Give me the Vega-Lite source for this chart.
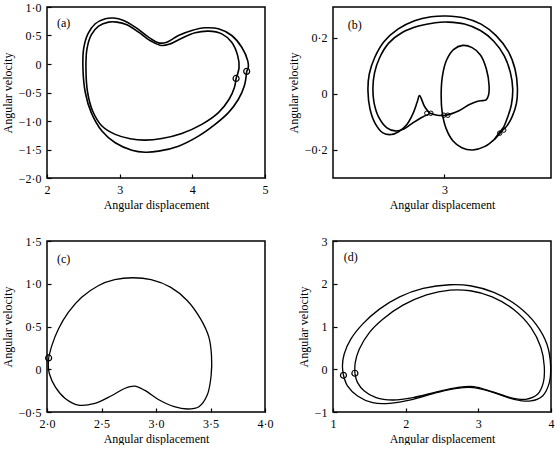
{
"$schema": "https://vega.github.io/schema/vega-lite/v6.json",
"background": "white",
"padding": 0,
"bounds": "flush",
"columns": 2,
"spacing": {"row": 63, "column": 68},
"config": {
  "font": "Liberation Serif",
  "view": {"stroke": "black", "strokeWidth": 1.5},
  "axis": {"domain": false, "grid": false, "ticks": true, "tickColor": "black", "tickSize": -4, "tickWidth": 1.2,
    "labelFont": "Liberation Serif", "labelFontSize": 12, "labelColor": "black", "labelFlush": false, "labelOverlap": false, "labelPadding": 10,
    "titleFont": "Liberation Serif", "titleFontSize": 12, "titleFontWeight": "normal", "titleColor": "black", "titlePadding": 4},
  "line": {"stroke": "black", "strokeWidth": 1.6, "interpolate": "catmull-rom"},
  "point": {"shape": "circle", "filled": false, "stroke": "black", "strokeWidth": 1.2, "opacity": 1},
  "text": {"font": "Liberation Serif", "fontSize": 12, "color": "black"}
},
"datasets": {
  "a": [
    {"s":1,"i":0,"x":4.748,"y":-0.129},{"s":1,"i":1,"x":4.716,"y":-0.382},{"s":1,"i":2,"x":4.634,"y":-0.618},{"s":1,"i":3,"x":4.497,"y":-0.853},{"s":1,"i":4,"x":4.313,"y":-1.059},{"s":1,"i":5,"x":4.084,"y":-1.265},{"s":1,"i":6,"x":3.809,"y":-1.441},{"s":1,"i":7,"x":3.535,"y":-1.529},{"s":1,"i":8,"x":3.351,"y":-1.547},{"s":1,"i":9,"x":3.168,"y":-1.512},{"s":1,"i":10,"x":2.939,"y":-1.382},{"s":1,"i":11,"x":2.756,"y":-1.176},{"s":1,"i":12,"x":2.609,"y":-0.853},{"s":1,"i":13,"x":2.527,"y":-0.5},{"s":1,"i":14,"x":2.495,"y":-0.088},{"s":1,"i":15,"x":2.504,"y":0.265},{"s":1,"i":16,"x":2.563,"y":0.529},{"s":1,"i":17,"x":2.664,"y":0.706},{"s":1,"i":18,"x":2.802,"y":0.794},{"s":1,"i":19,"x":2.916,"y":0.806},{"s":1,"i":20,"x":3.054,"y":0.765},{"s":1,"i":21,"x":3.214,"y":0.647},{"s":1,"i":22,"x":3.397,"y":0.471},{"s":1,"i":23,"x":3.535,"y":0.371},{"s":1,"i":24,"x":3.649,"y":0.382},{"s":1,"i":25,"x":3.809,"y":0.5},{"s":1,"i":26,"x":3.993,"y":0.588},{"s":1,"i":27,"x":4.176,"y":0.635},{"s":1,"i":28,"x":4.359,"y":0.618},{"s":1,"i":29,"x":4.542,"y":0.5},{"s":1,"i":30,"x":4.68,"y":0.294},{"s":1,"i":31,"x":4.762,"y":0.059},{"s":1,"i":32,"x":4.771,"y":-0.059},{"s":1,"i":33,"x":4.748,"y":-0.129},
    {"s":2,"i":0,"x":4.602,"y":-0.253},{"s":2,"i":1,"x":4.579,"y":-0.412},{"s":2,"i":2,"x":4.506,"y":-0.618},{"s":2,"i":3,"x":4.359,"y":-0.853},{"s":2,"i":4,"x":4.13,"y":-1.059},{"s":2,"i":5,"x":3.855,"y":-1.218},{"s":2,"i":6,"x":3.58,"y":-1.306},{"s":2,"i":7,"x":3.351,"y":-1.335},{"s":2,"i":8,"x":3.145,"y":-1.312},{"s":2,"i":9,"x":2.939,"y":-1.235},{"s":2,"i":10,"x":2.756,"y":-1.088},{"s":2,"i":11,"x":2.628,"y":-0.824},{"s":2,"i":12,"x":2.559,"y":-0.5},{"s":2,"i":13,"x":2.536,"y":-0.088},{"s":2,"i":14,"x":2.55,"y":0.265},{"s":2,"i":15,"x":2.609,"y":0.512},{"s":2,"i":16,"x":2.71,"y":0.665},{"s":2,"i":17,"x":2.847,"y":0.735},{"s":2,"i":18,"x":2.962,"y":0.735},{"s":2,"i":19,"x":3.099,"y":0.688},{"s":2,"i":20,"x":3.26,"y":0.559},{"s":2,"i":21,"x":3.443,"y":0.394},{"s":2,"i":22,"x":3.58,"y":0.324},{"s":2,"i":23,"x":3.695,"y":0.353},{"s":2,"i":24,"x":3.855,"y":0.453},{"s":2,"i":25,"x":4.038,"y":0.547},{"s":2,"i":26,"x":4.222,"y":0.576},{"s":2,"i":27,"x":4.405,"y":0.529},{"s":2,"i":28,"x":4.542,"y":0.382},{"s":2,"i":29,"x":4.624,"y":0.147},{"s":2,"i":30,"x":4.643,"y":-0.059},{"s":2,"i":31,"x":4.602,"y":-0.253}
  ],
  "am": [{"x":4.748,"y":-0.129},{"x":4.602,"y":-0.253}],
  "b": [
    {"s":1,"i":0,"x":2.955,"y":-0.068},{"s":1,"i":1,"x":2.94,"y":-0.045},{"s":1,"i":2,"x":2.925,"y":-0.006},{"s":1,"i":3,"x":2.918,"y":-0.029},{"s":1,"i":4,"x":2.905,"y":-0.071},{"s":1,"i":5,"x":2.885,"y":-0.112},{"s":1,"i":6,"x":2.862,"y":-0.135},{"s":1,"i":7,"x":2.84,"y":-0.145},{"s":1,"i":8,"x":2.815,"y":-0.139},{"s":1,"i":9,"x":2.792,"y":-0.106},{"s":1,"i":10,"x":2.776,"y":-0.053},{"s":1,"i":11,"x":2.77,"y":0.012},{"s":1,"i":12,"x":2.774,"y":0.071},{"s":1,"i":13,"x":2.79,"y":0.129},{"s":1,"i":14,"x":2.818,"y":0.186},{"s":1,"i":15,"x":2.86,"y":0.231},{"s":1,"i":16,"x":2.91,"y":0.261},{"s":1,"i":17,"x":2.96,"y":0.275},{"s":1,"i":18,"x":3.005,"y":0.278},{"s":1,"i":19,"x":3.06,"y":0.271},{"s":1,"i":20,"x":3.11,"y":0.249},{"s":1,"i":21,"x":3.155,"y":0.208},{"s":1,"i":22,"x":3.192,"y":0.151},{"s":1,"i":23,"x":3.212,"y":0.088},{"s":1,"i":24,"x":3.219,"y":0.024},{"s":1,"i":25,"x":3.216,"y":-0.035},{"s":1,"i":26,"x":3.203,"y":-0.082},{"s":1,"i":27,"x":3.187,"y":-0.115},{"s":1,"i":28,"x":3.172,"y":-0.133},{"s":1,"i":29,"x":3.15,"y":-0.162},{"s":1,"i":30,"x":3.12,"y":-0.188},{"s":1,"i":31,"x":3.085,"y":-0.2},{"s":1,"i":32,"x":3.052,"y":-0.192},{"s":1,"i":33,"x":3.025,"y":-0.167},{"s":1,"i":34,"x":3.005,"y":-0.124},{"s":1,"i":35,"x":2.993,"y":-0.065},{"s":1,"i":36,"x":2.99,"y":0.0},{"s":1,"i":37,"x":2.994,"y":0.065},{"s":1,"i":38,"x":3.006,"y":0.12},{"s":1,"i":39,"x":3.027,"y":0.158},{"s":1,"i":40,"x":3.055,"y":0.173},{"s":1,"i":41,"x":3.083,"y":0.165},{"s":1,"i":42,"x":3.108,"y":0.139},{"s":1,"i":43,"x":3.126,"y":0.088},{"s":1,"i":44,"x":3.134,"y":0.029},{"s":1,"i":45,"x":3.132,"y":-0.006},{"s":1,"i":46,"x":3.125,"y":-0.021},{"s":1,"i":47,"x":3.115,"y":-0.024},{"s":1,"i":48,"x":3.1,"y":-0.026},{"s":1,"i":49,"x":3.075,"y":-0.038},{"s":1,"i":50,"x":3.045,"y":-0.059},{"s":1,"i":51,"x":3.003,"y":-0.076},{"s":1,"i":52,"x":2.978,"y":-0.076},{"s":1,"i":53,"x":2.955,"y":-0.068},
    {"s":2,"i":0,"x":2.952,"y":-0.073},{"s":2,"i":1,"x":2.93,"y":-0.085},{"s":2,"i":2,"x":2.902,"y":-0.106},{"s":2,"i":3,"x":2.878,"y":-0.125},{"s":2,"i":4,"x":2.852,"y":-0.132},{"s":2,"i":5,"x":2.826,"y":-0.12},{"s":2,"i":6,"x":2.802,"y":-0.082},{"s":2,"i":7,"x":2.788,"y":-0.029},{"s":2,"i":8,"x":2.785,"y":0.024},{"s":2,"i":9,"x":2.79,"y":0.076},{"s":2,"i":10,"x":2.805,"y":0.129},{"s":2,"i":11,"x":2.833,"y":0.182},{"s":2,"i":12,"x":2.873,"y":0.219},{"s":2,"i":13,"x":2.922,"y":0.242},{"s":2,"i":14,"x":2.972,"y":0.254},{"s":2,"i":15,"x":3.012,"y":0.256},{"s":2,"i":16,"x":3.06,"y":0.249},{"s":2,"i":17,"x":3.108,"y":0.226},{"s":2,"i":18,"x":3.148,"y":0.188},{"s":2,"i":19,"x":3.18,"y":0.135},{"s":2,"i":20,"x":3.198,"y":0.076},{"s":2,"i":21,"x":3.205,"y":0.018},{"s":2,"i":22,"x":3.201,"y":-0.038},{"s":2,"i":23,"x":3.19,"y":-0.082},{"s":2,"i":24,"x":3.177,"y":-0.12},{"s":2,"i":25,"x":3.164,"y":-0.139},{"s":2,"i":26,"x":3.15,"y":-0.162}
  ],
  "bm": [{"x":2.947,"y":-0.069},{"x":2.959,"y":-0.069},{"x":2.998,"y":-0.076},{"x":3.01,"y":-0.076},{"x":3.166,"y":-0.14},{"x":3.178,"y":-0.129}],
  "c": [
    {"s":1,"i":0,"x":2.015,"y":0.132},{"s":1,"i":1,"x":2.045,"y":0.279},{"s":1,"i":2,"x":2.106,"y":0.473},{"s":1,"i":3,"x":2.197,"y":0.667},{"s":1,"i":4,"x":2.318,"y":0.841},{"s":1,"i":5,"x":2.47,"y":0.977},{"s":1,"i":6,"x":2.621,"y":1.047},{"s":1,"i":7,"x":2.788,"y":1.07},{"s":1,"i":8,"x":2.955,"y":1.047},{"s":1,"i":9,"x":3.136,"y":0.957},{"s":1,"i":10,"x":3.288,"y":0.802},{"s":1,"i":11,"x":3.409,"y":0.589},{"s":1,"i":12,"x":3.485,"y":0.376},{"s":1,"i":13,"x":3.509,"y":0.163},{"s":1,"i":14,"x":3.506,"y":-0.07},{"s":1,"i":15,"x":3.47,"y":-0.302},{"s":1,"i":16,"x":3.394,"y":-0.438},{"s":1,"i":17,"x":3.288,"y":-0.465},{"s":1,"i":18,"x":3.167,"y":-0.438},{"s":1,"i":19,"x":3.03,"y":-0.36},{"s":1,"i":20,"x":2.894,"y":-0.244},{"s":1,"i":21,"x":2.803,"y":-0.198},{"s":1,"i":22,"x":2.712,"y":-0.225},{"s":1,"i":23,"x":2.591,"y":-0.31},{"s":1,"i":24,"x":2.439,"y":-0.399},{"s":1,"i":25,"x":2.288,"y":-0.419},{"s":1,"i":26,"x":2.167,"y":-0.341},{"s":1,"i":27,"x":2.076,"y":-0.205},{"s":1,"i":28,"x":2.021,"y":-0.05},{"s":1,"i":29,"x":2.012,"y":0.047},{"s":1,"i":30,"x":2.015,"y":0.132}
  ],
  "cm": [{"x":2.015,"y":0.132}],
  "d": [
    {"s":1,"i":0,"x":1.144,"y":-0.141},{"s":1,"i":1,"x":1.13,"y":0.078},{"s":1,"i":2,"x":1.153,"y":0.352},{"s":1,"i":3,"x":1.245,"y":0.703},{"s":1,"i":4,"x":1.407,"y":1.055},{"s":1,"i":5,"x":1.639,"y":1.406},{"s":1,"i":6,"x":1.917,"y":1.695},{"s":1,"i":7,"x":2.241,"y":1.891},{"s":1,"i":8,"x":2.611,"y":1.977},{"s":1,"i":9,"x":2.889,"y":1.953},{"s":1,"i":10,"x":3.213,"y":1.797},{"s":1,"i":11,"x":3.537,"y":1.484},{"s":1,"i":12,"x":3.792,"y":1.055},{"s":1,"i":13,"x":3.944,"y":0.586},{"s":1,"i":14,"x":3.995,"y":0.078},{"s":1,"i":15,"x":3.977,"y":-0.313},{"s":1,"i":16,"x":3.884,"y":-0.625},{"s":1,"i":17,"x":3.722,"y":-0.742},{"s":1,"i":18,"x":3.491,"y":-0.703},{"s":1,"i":19,"x":3.213,"y":-0.547},{"s":1,"i":20,"x":2.935,"y":-0.43},{"s":1,"i":21,"x":2.704,"y":-0.445},{"s":1,"i":22,"x":2.426,"y":-0.547},{"s":1,"i":23,"x":2.102,"y":-0.703},{"s":1,"i":24,"x":1.778,"y":-0.797},{"s":1,"i":25,"x":1.546,"y":-0.781},{"s":1,"i":26,"x":1.338,"y":-0.625},{"s":1,"i":27,"x":1.199,"y":-0.391},{"s":1,"i":28,"x":1.144,"y":-0.141},
    {"s":2,"i":0,"x":1.301,"y":-0.094},{"s":2,"i":1,"x":1.306,"y":0.156},{"s":2,"i":2,"x":1.361,"y":0.469},{"s":2,"i":3,"x":1.5,"y":0.859},{"s":2,"i":4,"x":1.685,"y":1.172},{"s":2,"i":5,"x":1.963,"y":1.5},{"s":2,"i":6,"x":2.287,"y":1.742},{"s":2,"i":7,"x":2.611,"y":1.852},{"s":2,"i":8,"x":2.889,"y":1.836},{"s":2,"i":9,"x":3.19,"y":1.695},{"s":2,"i":10,"x":3.491,"y":1.391},{"s":2,"i":11,"x":3.722,"y":0.977},{"s":2,"i":12,"x":3.861,"y":0.508},{"s":2,"i":13,"x":3.907,"y":0.078},{"s":2,"i":14,"x":3.894,"y":-0.313},{"s":2,"i":15,"x":3.815,"y":-0.586},{"s":2,"i":16,"x":3.653,"y":-0.703},{"s":2,"i":17,"x":3.444,"y":-0.664},{"s":2,"i":18,"x":3.19,"y":-0.523},{"s":2,"i":19,"x":2.935,"y":-0.406},{"s":2,"i":20,"x":2.704,"y":-0.43},{"s":2,"i":21,"x":2.426,"y":-0.531},{"s":2,"i":22,"x":2.102,"y":-0.664},{"s":2,"i":23,"x":1.824,"y":-0.719},{"s":2,"i":24,"x":1.593,"y":-0.664},{"s":2,"i":25,"x":1.431,"y":-0.508},{"s":2,"i":26,"x":1.338,"y":-0.313},{"s":2,"i":27,"x":1.301,"y":-0.094}
  ],
  "dm": [{"x":1.144,"y":-0.141},{"x":1.301,"y":-0.094}],
  "lab": [
    {"p":"a","x":2.229,"y":0.724,"t":"(a)"},
    {"p":"b","x":2.73,"y":0.245,"t":"(b)"},
    {"p":"c","x":2.152,"y":1.287,"t":"(c)"},
    {"p":"d","x":1.245,"y":2.617,"t":"(d)"}
  ]
},
"concat": [
  {
    "width": 218, "height": 171,
    "encoding": {
      "x": {"field": "x", "type": "quantitative", "scale": {"domain": [2, 5], "nice": false, "zero": false},
        "axis": {"title": "Angular displacement", "values": [2, 3, 4, 5], "format": "d"}},
      "y": {"field": "y", "type": "quantitative", "scale": {"domain": [-2, 1], "nice": false, "zero": false},
        "axis": {"title": "Angular velocity", "values": [-2, -1.5, -1, -0.5, 0, 0.5, 1],
          "labelExpr": "datum.value == 0 ? '0' : replace(replace(format(datum.value, '.1f'), '.', '·'), '-', '−')"}}
    },
    "layer": [
      {"data": {"name": "a"}, "mark": {"type": "line"}, "encoding": {"detail": {"field": "s"}, "order": {"field": "i", "type": "quantitative"}}},
      {"data": {"name": "am"}, "mark": {"type": "point", "size": 36}},
      {"data": {"name": "lab"}, "transform": [{"filter": "datum.p == 'a'"}], "mark": {"type": "text"}, "encoding": {"text": {"field": "t"}}}
    ]
  },
  {
    "width": 218, "height": 171,
    "encoding": {
      "x": {"field": "x", "type": "quantitative", "scale": {"domain": [2.665, 3.32], "nice": false, "zero": false},
        "axis": {"title": "Angular displacement", "values": [3], "format": "d"}},
      "y": {"field": "y", "type": "quantitative", "scale": {"domain": [-0.3, 0.31], "nice": false, "zero": false},
        "axis": {"title": "Angular velocity", "values": [-0.2, 0, 0.2],
          "labelExpr": "datum.value == 0 ? '0' : replace(replace(format(datum.value, '.1f'), '.', '·'), '-', '−')"}}
    },
    "layer": [
      {"data": {"name": "b"}, "mark": {"type": "line", "strokeWidth": 1.6}, "encoding": {"detail": {"field": "s"}, "order": {"field": "i", "type": "quantitative"}}},
      {"data": {"name": "bm"}, "mark": {"type": "point", "size": 20, "strokeWidth": 1}},
      {"data": {"name": "lab"}, "transform": [{"filter": "datum.p == 'b'"}], "mark": {"type": "text"}, "encoding": {"text": {"field": "t"}}}
    ]
  },
  {
    "width": 218, "height": 171,
    "encoding": {
      "x": {"field": "x", "type": "quantitative", "scale": {"domain": [2, 4], "nice": false, "zero": false},
        "axis": {"title": "Angular displacement", "values": [2, 2.5, 3, 3.5, 4],
          "labelExpr": "replace(format(datum.value, '.1f'), '.', '·')"}},
      "y": {"field": "y", "type": "quantitative", "scale": {"domain": [-0.5, 1.5], "nice": false, "zero": false},
        "axis": {"title": "Angular velocity", "values": [-0.5, 0, 0.5, 1, 1.5],
          "labelExpr": "datum.value == 0 ? '0' : replace(replace(format(datum.value, '.1f'), '.', '·'), '-', '−')"}}
    },
    "layer": [
      {"data": {"name": "c"}, "mark": {"type": "line", "strokeWidth": 1.3}, "encoding": {"detail": {"field": "s"}, "order": {"field": "i", "type": "quantitative"}}},
      {"data": {"name": "cm"}, "mark": {"type": "point", "size": 36}},
      {"data": {"name": "lab"}, "transform": [{"filter": "datum.p == 'c'"}], "mark": {"type": "text"}, "encoding": {"text": {"field": "t"}}}
    ]
  },
  {
    "width": 218, "height": 171,
    "encoding": {
      "x": {"field": "x", "type": "quantitative", "scale": {"domain": [1, 4], "nice": false, "zero": false},
        "axis": {"title": "Angular displacement", "values": [1, 2, 3, 4], "format": "d"}},
      "y": {"field": "y", "type": "quantitative", "scale": {"domain": [-1, 3], "nice": false, "zero": false},
        "axis": {"title": "Angular velocity", "values": [-1, 0, 1, 2, 3],
          "labelExpr": "replace(format(datum.value, 'd'), '-', '−')"}}
    },
    "layer": [
      {"data": {"name": "d"}, "mark": {"type": "line", "strokeWidth": 1.3}, "encoding": {"detail": {"field": "s"}, "order": {"field": "i", "type": "quantitative"}}},
      {"data": {"name": "dm"}, "mark": {"type": "point", "size": 36}},
      {"data": {"name": "lab"}, "transform": [{"filter": "datum.p == 'd'"}], "mark": {"type": "text"}, "encoding": {"text": {"field": "t"}}}
    ]
  }
]
}
